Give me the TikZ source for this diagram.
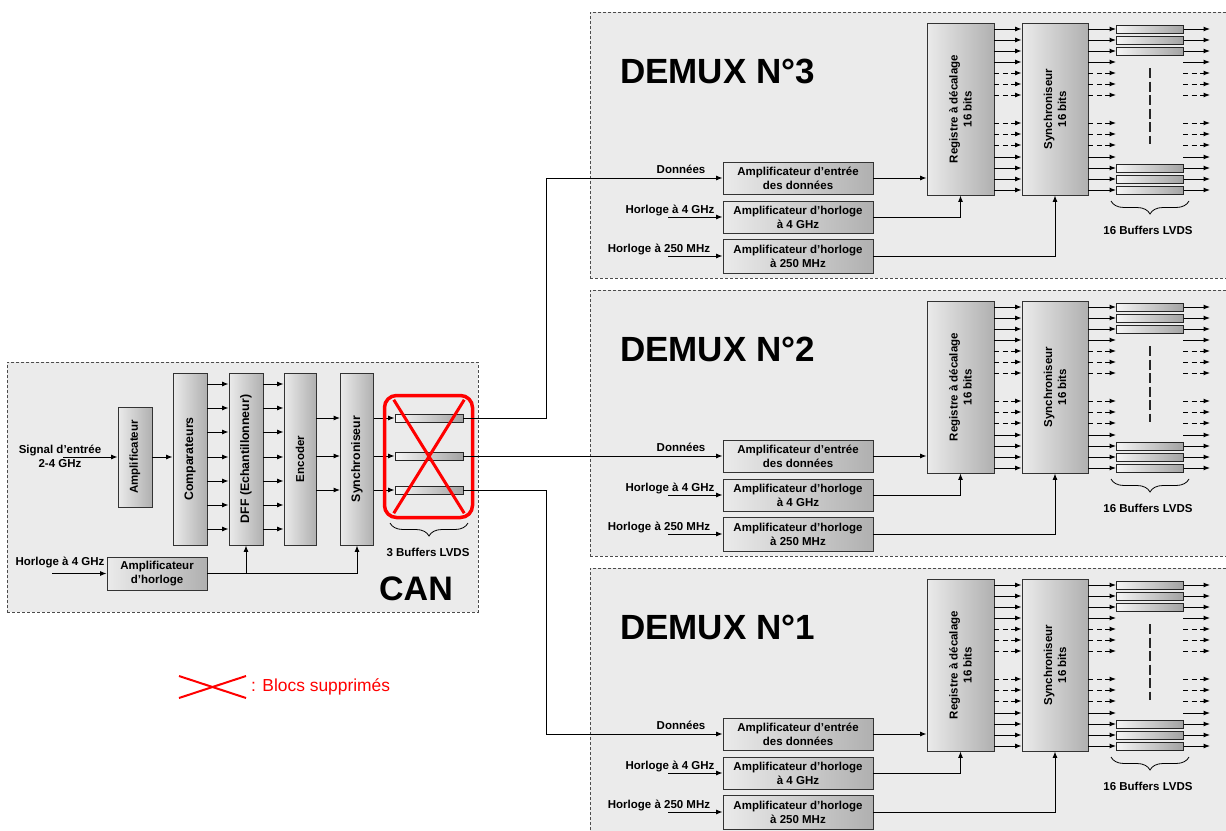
\documentclass[tikz,border=0pt]{standalone}
\usepackage{fontspec}
\setmainfont{Liberation Sans}
\usetikzlibrary{arrows.meta,decorations.pathreplacing,calc}
\newcommand\lblfont{\bfseries\fontsize{11.5}{14}\selectfont}
\newcommand\canvfont{\bfseries\fontsize{12.3}{14}\selectfont}
\begin{document}
\begin{tikzpicture}[x=1pt,y=-1pt,
 lbl/.style={font=\lblfont, align=center, inner sep=0pt},
 blk/.style={draw=black!80, line width=0.8pt, left color=black!8, right color=black!31, inner sep=0pt, font=\lblfont, align=center},
 vlbl/.style={font=\lblfont, align=center, rotate=90, inner sep=0pt},
 bgbox/.style={fill=black!8, draw=black!70, line width=0.8pt, dash pattern=on 3pt off 2pt, inner sep=0pt, anchor=north west},
 arr/.style={line width=1pt, -{Latex[length=6.5pt,width=5pt]}},
 ln/.style={line width=1pt},
 dsh/.style={arr, dash pattern=on 5pt off 3.5pt},
 buf/.style={draw=black!85, line width=0.8pt, left color=black!4, right color=black!36, minimum width=67pt, minimum height=8pt, inner sep=0pt},
 brc/.style={decorate, decoration={brace, mirror, amplitude=13pt}, line width=0.8pt},
 redx/.style={draw=red, line width=3pt},
 titlef/.style={font=\bfseries\fontsize{35}{40}\selectfont, inner sep=0pt},
]
\useasboundingbox (0,0) rectangle (1226,830);
\clip (0,0) rectangle (1226,830);
\fill[white] (0,0) rectangle (1226,830);

% ---------------- CAN ----------------
\node[bgbox, minimum width=471, minimum height=250] (can) at (7,362) {};
\node[blk, minimum width=34, minimum height=100] (ampl) at (135,457) {};
\node[vlbl] (amplT) at (ampl) {Amplificateur};
\node[blk, minimum width=34, minimum height=172] (comp) at (190,459) {};
\node[vlbl, font=\canvfont] (compT) at (comp) {Comparateurs};
\node[blk, minimum width=34, minimum height=172] (dff) at (246,459) {};
\node[vlbl, font=\canvfont] (dffT) at (dff) {DFF (Echantillonneur)};
\node[blk, minimum width=32, minimum height=172] (enc) at (300,459) {};
\node[vlbl] (encT) at (enc) {Encoder};
\node[blk, minimum width=33, minimum height=172] (syn) at (357,459) {};
\node[vlbl, font=\canvfont] (synT) at (syn) {Synchroniseur};
\node[blk, minimum width=100, minimum height=33] (ampH) at (157,573.5) {Amplificateur\\d’horloge};

\node[buf, minimum width=68] (cb1) at (429,418) {};
\node[buf, minimum width=68] (cb2) at (429,456) {};
\node[buf, minimum width=68] (cb3) at (429,490) {};

\node[lbl] (sig) at (60,456) {Signal d’entrée\\2-4 GHz};
\coordinate (sigin) at (63,457);
\node[lbl] (hlab) at (60,562) {Horloge à 4 GHz};
\coordinate (hin) at (52,573.5);

\draw[arr] (sigin) -- (ampl.west);
\draw[arr] (hin) -- (ampH.west);
\draw[arr] (ampl.east) -- (comp.west |- ampl.east);
\foreach \yy in {384,408,432,457,481,505,529} {
  \draw[arr] (comp.east |- 0,\yy) -- (dff.west |- 0,\yy);
  \draw[arr] (dff.east |- 0,\yy) -- (enc.west |- 0,\yy);
}
\foreach \b in {cb1,cb2,cb3} {
  \draw[arr] (enc.east |- \b) -- (syn.west |- \b);
  \draw[arr] (syn.east |- \b) -- (\b.west);
}
\draw[arr] (ampH.east) -| (syn.south);
\draw[arr] (dff.south |- ampH.east) -- (dff.south);

\node[draw=red, line width=3.5pt, rounded corners=12pt, minimum width=88, minimum height=122, inner sep=0pt] (del) at (428.5,456.5) {};
\draw[redx] ([shift={(11,6)}]del.north west) -- ([shift={(-10,-6)}]del.south east);
\draw[redx] ([shift={(-10,6)}]del.north east) -- ([shift={(11,-6)}]del.south west);

\draw[brc] (390,523) -- (468,523);
\node[lbl] (cbl) at (428,552) {3 Buffers LVDS};
\node[font=\bfseries\fontsize{34}{40}\selectfont, anchor=base, inner sep=0pt] (cant) at (416,600) {CAN};

% ---------------- Legend ----------------
\draw[red, line width=2pt] (179,676) -- (246,698);
\draw[red, line width=2pt] (179,698) -- (246,676);
\node[text=red, font=\fontsize{17.4}{20}\selectfont, anchor=west, inner sep=0pt] (legt) at (251,687) {: Blocs supprimés};

% ---------------- DEMUX ----------------
\foreach \n/\dy in {3/0,2/278,1/556} {
\begin{scope}[shift={(0,\dy)}]
  \node[bgbox, minimum width=680, minimum height=266] (dm\n) at (590,12) {};
  \node[titlef, anchor=base west] (title\n) at (620,83) {DEMUX N°\n};
  \node[blk, minimum width=150, minimum height=32] (ain\n) at (798,178) {Amplificateur d’entrée\\des données};
  \node[blk, minimum width=150, minimum height=32] (ah\n) at (798,217) {Amplificateur d’horloge\\à 4 GHz};
  \node[blk, minimum width=150, minimum height=34] (ahb\n) at (798,256) {Amplificateur d’horloge\\à 250 MHz};
  \node[lbl] (ld\n) at (681,169) {Données};
  \node[lbl] (lh\n) at (670,210) {Horloge à 4 GHz};
  \node[lbl] (lhb\n) at (659,249) {Horloge à 250 MHz};
  \coordinate (ih\n) at (668,217);
  \coordinate (ihb\n) at (668,256);
  \draw[arr] (ih\n) -- (ah\n.west);
  \draw[arr] (ihb\n) -- (ahb\n.west);

  \node[blk, minimum width=67, minimum height=172] (reg\n) at (960.5,109) {};
  \node[vlbl] (regT\n) at (reg\n) {Registre à décalage\\16 bits};
  \node[blk, minimum width=66, minimum height=172] (sy\n) at (1055,109) {};
  \node[vlbl] (syT\n) at (sy\n) {Synchroniseur\\16 bits};

  \draw[arr] (ain\n.east) -- (reg\n.west |- ain\n.east);
  \draw[arr] (ah\n.east) -| (reg\n.south);
  \draw[arr] (ahb\n.east) -| (sy\n.south);

  \foreach \y/\s in {29/arr,40/arr,51/arr,62/arr,73/dsh,84/dsh,95/dsh,123/dsh,134/dsh,145/dsh,157/arr,168/arr,179/arr,190/arr} {
    \draw[\s] (reg\n.east |- 0,\y) -- (sy\n.west |- 0,\y);
    \draw[\s] (sy\n.east |- 0,\y) -- (1116,\y);
    \draw[\s] (1183,\y) -- (1210,\y);
  }
  \foreach \y in {29,40,51,168,179,190} {
    \node[buf] (b\n-\y) at (1149.5,\y) {};
  }
  \draw[line width=1.5pt, black!85, dash pattern=on 10pt off 3.5pt] (1150,68) -- (1150,144);
  \draw[brc] (1111,201) -- (1189,201);
  \node[lbl] (bl\n) at (1148,230) {16 Buffers LVDS};
\end{scope}
}

% ---------------- CAN -> DEMUX ----------------
\draw[arr] (cb1.east) -- ++(83,0) |- (ain3.west);
\draw[arr] (cb2.east) -- (cb2.east -| ain2.west);
\draw[arr] (cb3.east) -- ++(83,0) |- (ain1.west);
\end{tikzpicture}
\end{document}
